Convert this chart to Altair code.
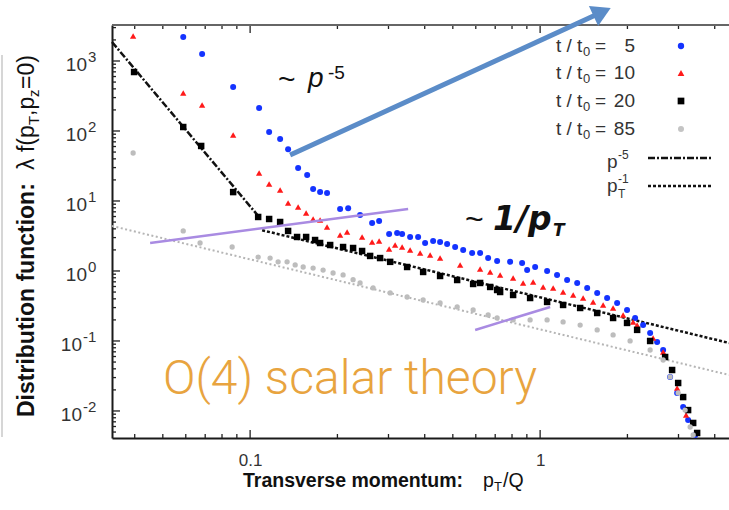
import altair as alt
import pandas as pd

# ---------------- data ----------------
blue_x = [0.0588, 0.0683, 0.0874, 0.1074, 0.1163, 0.1269, 0.1352, 0.1464, 0.1573, 0.1649,
          0.1743, 0.1842, 0.2043, 0.2178, 0.2394, 0.2634, 0.2785, 0.3015, 0.3213, 0.3343,
          0.3562, 0.3796, 0.4012, 0.4276, 0.4519, 0.4778, 0.5093, 0.5428, 0.5828, 0.621,
          0.6618, 0.7107, 0.788, 0.8667, 0.902, 0.9612, 1.057, 1.144, 1.239, 1.342,
          1.453, 1.573, 1.702, 1.843, 1.994, 2.126, 2.265, 2.395, 2.532, 2.656,
          2.807, 2.968, 3.113, 3.238, 3.425]
blue_y = [2200, 1260, 425, 213, 97, 77, 55, 29.6, 23.5, 14.8,
          13.4, 13.0, 7.7, 7.9, 6.3, 4.85, 5.18, 3.38, 3.49, 3.38,
          3.06, 3.06, 2.51, 2.68, 2.6, 2.43, 2.2, 2.0, 1.81, 1.81,
          1.53, 1.39, 1.35, 1.30, 1.03, 1.14, 1.0, 0.877, 0.743, 0.674,
          0.572, 0.485, 0.411, 0.349, 0.277, 0.213, 0.169, 0.130, 0.0968, 0.0743,
          0.0306, 0.0181, 0.0114, 0.00743, 0.00454]

red_x = [0.0395, 0.0588, 0.0683, 0.0874, 0.1074, 0.1163, 0.1269, 0.1352, 0.1464, 0.156,
         0.1649, 0.1743, 0.1842, 0.2043, 0.216, 0.2433, 0.2634, 0.2785, 0.3015, 0.3162,
         0.3343, 0.3562, 0.3857, 0.4175, 0.4519, 0.5299, 0.621, 0.6725, 0.7279, 0.807,
         0.8737, 0.9461, 1.024, 1.109, 1.2, 1.3, 1.407, 1.523, 1.649, 1.785,
         1.933, 2.093, 2.16, 2.453, 2.656, 2.852, 2.968, 3.187]
red_y = [2280, 349, 235, 87.7, 25.1, 17.5, 14.4, 9.36, 8.2, 6.74,
         5.53, 5.35, 4.25, 3.27, 3.61, 3.06, 2.6, 2.68, 2.06, 2.35,
         2.2, 2.0, 1.81, 1.69, 1.53, 1.22, 1.07, 0.968, 0.877, 0.794,
         0.674, 0.697, 0.591, 0.572, 0.501, 0.454, 0.411, 0.361, 0.327, 0.296,
         0.235, 0.187, 0.169, 0.110, 0.0697, 0.0385, 0.0213, 0.00877]

black_x = [0.0398, 0.0588, 0.0678, 0.0874, 0.1066, 0.1163, 0.1269, 0.1352, 0.1452, 0.156,
           0.1675, 0.1743, 0.1888, 0.2092, 0.2265, 0.2433, 0.2593, 0.2807, 0.304, 0.3478,
           0.395, 0.4519, 0.5175, 0.5875, 0.621, 0.6725, 0.7107, 0.7279, 0.807, 0.9236,
           1.057, 1.2, 1.374, 1.573, 1.785, 1.994, 2.16, 2.395, 2.698, 2.852,
           2.992, 3.113, 3.238, 3.371, 3.479]
black_y = [696, 114, 61.1, 13.4, 5.91, 5.53, 5.01, 3.73, 3.06, 3.06,
           2.77, 2.51, 2.35, 2.2, 2.13, 1.93, 1.64, 1.53, 1.35, 1.14,
           0.968, 0.848, 0.743, 0.652, 0.674, 0.591, 0.535, 0.501, 0.454, 0.411,
           0.361, 0.327, 0.296, 0.251, 0.213, 0.181, 0.144, 0.1, 0.059, 0.0385,
           0.0251, 0.0158, 0.0103, 0.00674, 0.00485]

gray_x = [0.0395, 0.0588, 0.0672, 0.0867, 0.1066, 0.1172, 0.1249, 0.1341, 0.143, 0.1524,
          0.1649, 0.1785, 0.1932, 0.2092, 0.2265, 0.2394, 0.2655, 0.304, 0.3478, 0.395,
          0.4519, 0.5175, 0.5875, 0.6618, 0.7107, 0.807, 0.9236, 1.057, 1.2, 1.374,
          1.573, 1.785, 2.043, 2.395, 2.656, 2.807, 2.992, 3.162, 3.291, 3.371]
gray_y = [48.5, 3.73, 2.51, 2.2, 1.58, 1.53, 1.35, 1.35, 1.22, 1.14,
          1.10, 1.03, 0.936, 0.877, 0.75, 0.674, 0.572, 0.485, 0.425, 0.385,
          0.349, 0.306, 0.277, 0.235, 0.213, 0.2, 0.2, 0.2, 0.187, 0.169,
          0.144, 0.122, 0.1, 0.0743, 0.0535, 0.0306, 0.0181, 0.0103, 0.0059, 0.00454]

# power-law guide lines (end points)
pm5_x = [0.0334, 0.106]
pm5_y = [1868, 6.3]
pm1_x = [0.11, 4.48]
pm1_y = [3.82, 0.0938]
pm1g_x = [0.0334, 4.48]
pm1g_y = [4.39, 0.0327]

# purple slope markers
purple_x = [0.0452, 0.3506, 0.597, 1.083]
purple_y = [2.51, 7.69, 0.1436, 0.306]
purple_seg = ["a", "a", "b", "b"]

# blue arrow
arrow_x = [0.1374, 1.636]
arrow_y = [45.4, 5012]

# axis ticks
x_major = [0.1, 1]
x_minor = [0.04, 0.05, 0.06, 0.07, 0.08, 0.09, 0.2, 0.3, 0.4, 0.5, 0.6, 0.7, 0.8, 0.9, 2, 3, 4]
y_major = [1e-2, 1e-1, 1, 10, 100, 1000]
y_exp = ["-2", "-1", "0", "1", "2", "3"]
y_minor = [m * 10.0 ** k for k in range(-3, 4) for m in range(2, 10)
           if 0.00411 < m * 10.0 ** k < 3268]

legend_labels = ["5", "10", "20", "85"]

# ---------------- scales / helpers ----------------
W, H = 617, 413
FONT = "Liberation Sans"
xscale = alt.Scale(type="log", domain=[0.0334, 4.48], nice=False)
yscale = alt.Scale(type="log", domain=[0.00411, 3268], nice=False)
xaxis = alt.Axis(title=None, values=x_major, format="~g", ticks=False, grid=False,
                 domainColor="#1a1a1a", domainWidth=2, labelFontSize=17, labelColor="#333",
                 labelPadding=14, labelFont=FONT)
yaxis = alt.Axis(title=None, labels=False, ticks=False, grid=False,
                 domainColor="#1a1a1a", domainWidth=2)


def X():
    return alt.X("x:Q", scale=xscale, axis=xaxis)


def Y():
    return alt.Y("y:Q", scale=yscale, axis=yaxis)


one = pd.DataFrame({"z": [0]})

BLUE, RED, BLACK, GRAY = "#1433ff", "#ff1a1a", "#000000", "#bdbdbd"

layers = []

# guide lines (drawn under the points)
for xs, ys, col, dash, wd in [(pm5_x, pm5_y, "#111", [7, 2, 2, 2], 2.5),
                              (pm1_x, pm1_y, "#111", [3, 2], 2.5),
                              (pm1g_x, pm1g_y, "#b5b5b5", [2, 2.5], 2)]:
    layers.append(alt.Chart(pd.DataFrame({"x": xs, "y": ys})).mark_line(
        color=col, strokeDash=dash, strokeWidth=wd).encode(x=X(), y=Y()))

# series
for xs, ys, col, shp, sz in [(blue_x, blue_y, BLUE, "circle", 36),
                             (red_x, red_y, RED, "triangle-up", 40),
                             (black_x, black_y, BLACK, "square", 42),
                             (gray_x, gray_y, GRAY, "circle", 28)]:
    layers.append(alt.Chart(pd.DataFrame({"x": xs, "y": ys})).mark_point(
        shape=shp, filled=True, color=col, size=sz, opacity=1).encode(x=X(), y=Y()))

# purple markers
layers.append(alt.Chart(pd.DataFrame({"x": purple_x, "y": purple_y, "s": purple_seg})).mark_line(
    color="#a98be2", strokeWidth=2.5).encode(x=X(), y=Y(), detail="s:N"))


# ticks (inward)
def xticks(vals, length, top):
    d = pd.DataFrame({"x": vals})
    y1, y2 = (0, length) if top else (H, H - length)
    return alt.Chart(d).mark_rule(color="#222", strokeWidth=1.3).encode(
        x=X(), y=alt.value(y1), y2=alt.value(y2))


layers += [xticks(x_major, 8, False), xticks(x_minor, 4, False),
           xticks(x_major, 8, True), xticks(x_minor, 4, True)]
for vals, ln in [(y_major, 8), (y_minor, 4)]:
    layers.append(alt.Chart(pd.DataFrame({"y": vals})).mark_rule(color="#222", strokeWidth=1.3).encode(
        y=Y(), x=alt.value(0), x2=alt.value(ln)))

# top border
layers.append(alt.Chart(one).mark_rule(color="#666", strokeWidth=2).encode(
    x=alt.value(0), x2=alt.value(W), y=alt.value(0)))
# faint slide border at far left
layers.append(alt.Chart(one).mark_rule(color="#c8c8c8", strokeWidth=1.5).encode(
    x=alt.value(-110), y=alt.value(30), y2=alt.value(412)))

# y tick labels 10^n
ylab = pd.DataFrame({"y": y_major, "e": y_exp})
ylab["neg"] = ylab["e"].str.startswith("-")
for neg, xb in [(False, -25), (True, -30)]:
    base = alt.Chart(ylab).transform_filter(alt.datum.neg == neg)
    layers.append(base.mark_text(align="right", baseline="middle", dy=4, fontSize=19,
                                 font=FONT, color="#333").encode(
        y=Y(), x=alt.value(xb), text=alt.value("10")))
    layers.append(base.mark_text(align="left", baseline="middle", dy=-4, fontSize=15,
                                 font=FONT, color="#333").encode(
        y=Y(), x=alt.value(xb + 1), text="e:N"))


def txt(s, x, y, size, **kw):
    opts = dict(font=FONT, color="#111", baseline="middle", align="left", fontSize=size)
    opts.update(kw)
    return alt.Chart(one).mark_text(**opts).encode(
        x=alt.value(x), y=alt.value(y), text=alt.value(s))


# axis titles
layers += [
    txt("Transverse momentum:", 131, 456, 19.5, fontWeight="bold"),
    txt("p", 371, 456, 19.5),
    txt("T", 382, 462, 13),
    txt("/Q", 391, 456, 19.5),
]
YT = -85
layers += [
    txt("Distribution function:", YT, 392, 23, fontWeight="bold", angle=270),
    txt("λ f(p", YT, 145, 23, angle=270),
    txt("T", YT + 7, 100, 15, angle=270),
    txt(",p", YT, 91, 23, angle=270),
    txt("z", YT + 7, 72, 15, angle=270),
    txt("=0)", YT, 64, 23, angle=270),
]

# annotations
layers += [
    txt("~", 166, 55, 30),
    txt("p", 196, 62, 28, baseline="alphabetic", fontStyle="italic"),
    txt("-5", 216, 54, 19, baseline="alphabetic"),
    txt("~", 353, 195, 32),
    txt("1/p", 381, 205, 33, baseline="alphabetic", fontStyle="italic", fontWeight="bold",
        font="DejaVu Sans"),
    txt("T", 441, 211, 17, baseline="alphabetic", fontStyle="italic", fontWeight="bold",
        font="DejaVu Sans"),
    alt.Chart(one).mark_text(font="Roboto", fontWeight=300, fontSize=48, color="#e8a43f",
                             align="left", baseline="alphabetic").encode(
        x=alt.value(51), y=alt.value(369), text=alt.value("O(4) scalar theory")),
]

# legend
leg_rows = [21, 48, 76, 104]
leg_sym = [(BLUE, "circle", 40), (RED, "triangle-up", 45), (BLACK, "square", 45), ("#c4c4c4", "circle", 36)]
for lab, ry, (col, shp, sz) in zip(legend_labels, leg_rows, leg_sym):
    layers += [
        txt("t / t", 444, ry, 19, color="#333"),
        txt("0", 471, ry + 6, 13, color="#333"),
        txt("=", 483, ry, 19, color="#333"),
        txt(lab, 523, ry, 19, color="#333", align="right"),
        alt.Chart(one).mark_point(shape=shp, filled=True, color=col, size=sz, opacity=1).encode(
            x=alt.value(569), y=alt.value(ry)),
    ]
layers += [
    txt("p", 495, 143, 19, color="#333", baseline="alphabetic"),
    txt("-5", 506, 134, 12, color="#333", baseline="alphabetic"),
    txt("p", 495, 167, 19, color="#333", baseline="alphabetic"),
    txt("-1", 506, 158, 12, color="#333", baseline="alphabetic"),
    txt("T", 506, 173, 12, color="#333", baseline="alphabetic"),
    alt.Chart(one).mark_rule(color="#111", strokeWidth=2.5, strokeDash=[7, 2, 2, 2]).encode(
        x=alt.value(536), x2=alt.value(601), y=alt.value(133)),
    alt.Chart(one).mark_rule(color="#111", strokeWidth=2.5, strokeDash=[3, 2]).encode(
        x=alt.value(536), x2=alt.value(601), y=alt.value(161)),
]

# blue arrow on top
arrow_df = pd.DataFrame({"x": arrow_x, "y": arrow_y})
layers.append(alt.Chart(arrow_df).mark_line(color="#5b8cc8", strokeWidth=5, strokeCap="butt").encode(
    x=X(), y=Y()))
layers.append(alt.Chart(arrow_df.iloc[[1]]).mark_point(
    shape="triangle-right", filled=True, color="#5b8cc8", size=480, opacity=1, angle=335).encode(
    x=X(), y=Y()))

chart = alt.layer(*layers).properties(
    width=W, height=H,
    padding={"left": 112, "top": 25, "right": 0, "bottom": 72},
    autosize=alt.AutoSizeParams(type="none"),
    background="white",
).configure_view(stroke=None)

chart.save("out.html", embed_options={"renderer": "svg", "actions": False})
